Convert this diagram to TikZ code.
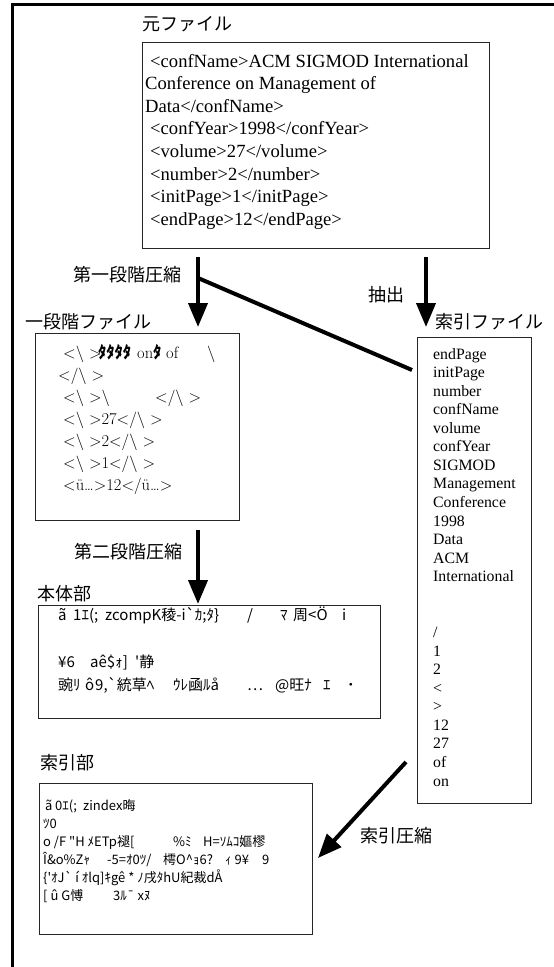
\documentclass[tikz,border=0pt]{standalone}
\usepackage{fontspec}
\newfontfamily\jpfont{Noto Sans CJK JP}
\newfontfamily\serifA{Liberation Serif}
\usetikzlibrary{arrows.meta}
\newcommand\sg[2]{\makebox[#1][l]{#2}}
\begin{document}
\begin{tikzpicture}[x=1pt,y=-1pt,
  frameline/.style={line width=3pt},
  filebox/.style={draw=black!85, line width=1.1pt, anchor=north west, inner sep=0pt},
  lbl/.style={font=\jpfont\fontsize{18}{20}\selectfont, inner sep=0pt, anchor=west},
  srcline/.style={font=\serifA\fontsize{18.6}{22}\selectfont, inner sep=0pt, anchor=base west},
  idxline/.style={font=\serifA\fontsize{15.8}{18}\selectfont, inner sep=0pt, anchor=base west},
  lmline/.style={font=\fontsize{16.5}{18}\selectfont, inner sep=0pt, anchor=base west},
  bodyline/.style={font=\jpfont\fontsize{15}{17}\selectfont, inner sep=0pt, anchor=base west},
  ipline/.style={font=\jpfont\fontsize{13}{15}\selectfont, inner sep=0pt, anchor=base west},
  bigarrow/.style={line width=4pt, -{Triangle[length=24pt,width=19pt]}},
  thickline/.style={line width=4pt},
]
\useasboundingbox (0,0) rectangle (554,967);
% outer frame (partly outside the picture)
\draw[frameline] (12,975) -- (12,4) -- (560,4);

% boxes
\node[filebox, minimum width=347pt, minimum height=206pt] (orig) at (142,42) {};
\node[filebox, minimum width=204pt, minimum height=187pt] (stage1) at (35,333) {};
\node[filebox, minimum width=342pt, minimum height=113pt] (body) at (38,605) {};
\node[filebox, minimum width=114pt, minimum height=466pt] (idx) at (417,337) {};
\node[filebox, minimum width=273pt, minimum height=151pt] (ipart) at (39,783) {};

% labels
\node[lbl] (lorig) at (142,24) {元ファイル};
\node[lbl] (lc1) at (73,275) {第一段階圧縮};
\node[lbl] (lstage1) at (25,322) {一段階ファイル};
\node[lbl] (lext) at (368,295) {抽出};
\node[lbl] (lidx) at (435,322) {索引ファイル};
\node[lbl] (lc2) at (74,552) {第二段階圧縮};
\node[lbl] (lbody) at (37,594) {本体部};
\node[lbl] (lipart) at (40,763) {索引部};
\node[lbl, anchor=east] (lc3) at (433,836) {索引圧縮};

% connectors
\coordinate (ax1) at (198,0);
\coordinate (ax2) at (426,0);
\draw[bigarrow, shorten <=8pt, shorten >=6pt] (orig.south -| ax1) -- (stage1.north -| ax1);
\draw[bigarrow, shorten <=8pt, shorten >=10pt] (orig.south -| ax2) -- (idx.north -| ax2);
\draw[bigarrow, shorten <=9pt, shorten >=1pt] (stage1.south -| ax1) -- (body.north -| ax1);
\coordinate (split) at (198,278);
\coordinate (splitend) at (412,370);
\draw[thickline] (split) -- (splitend);
\coordinate (c3s) at (406,762);
\coordinate (c3e) at (318,858);
\draw[bigarrow] (c3s) -- (c3e);

% original file text
\node[srcline] (o1) at (150,67) {<confName>ACM SIGMOD International};
\node[srcline] (o2) at (145,89.6) {Conference on Management of};
\node[srcline] (o3) at (145,112.2) {Data</confName>};
\node[srcline] (o4) at (150,134.8) {<confYear>1998</confYear>};
\node[srcline] (o5) at (150,157.4) {<volume>27</volume>};
\node[srcline] (o6) at (150,180) {<number>2</number>};
\node[srcline] (o7) at (150,202.6) {<initPage>1</initPage>};
\node[srcline] (o8) at (150,225.2) {<endPage>12</endPage>};

% index file text
\foreach \t [count=\i from 0] in {endPage,initPage,number,confName,volume,confYear,SIGMOD,Management,Conference,1998,Data,ACM,International}
  \node[idxline] (ix\i) at ({433},{359+18.57*\i}) {\t};
\foreach \t [count=\i from 15] in {/,1,2,<,>,12,27,of,on}
  \node[idxline] (ix\i) at ({433},{359+18.57*\i}) {\t};

% first stage file text
\node[lmline] (s1) at (63,358) {\sg{35pt}{<\textbackslash\ >}\sg{39pt}{\jpfont\bfseries ﾀﾀﾀﾀ}\sg{16pt}{on}\sg{13pt}{\jpfont\bfseries ﾀ}\sg{41pt}{of}\textbackslash};
\node[lmline] (s2) at (58,380) {</\textbackslash\ >};
\node[lmline] (s3) at (63,402) {\sg{92pt}{<\textbackslash\ >\textbackslash}</\textbackslash\ >};
\node[lmline] (s4) at (63,424) {<\textbackslash\ >27</\textbackslash\ >};
\node[lmline] (s5) at (63,446) {<\textbackslash\ >2</\textbackslash\ >};
\node[lmline] (s6) at (63,468) {<\textbackslash\ >1</\textbackslash\ >};
\node[lmline] (s7) at (63,490) {<ü…>12</ü…>};

% body text
\node[bodyline] (b1) at (58,620) {\sg{15pt}{ã}\sg{32pt}{1ｴ(;}\sg{142pt}{zcompK稜-i\textasciigrave ｶ;ﾀ\}}\sg{33pt}{/}\sg{13pt}{ﾏ}\sg{49pt}{周<Ö}i};
\node[bodyline] (b2) at (58,667) {\sg{32pt}{¥6}\sg{45pt}{aê\$ｫ]}\textquotesingle 静};
\node[bodyline] (b3) at (58,690) {\sg{27pt}{豌ﾘ}\sg{10pt}{ô}\sg{78pt}{9,\textasciigrave 統草ﾍ}\sg{74pt}{ｳﾚ凾ﾙå}\sg{28pt}{…}\sg{48pt}{@旺ﾅ}\sg{24pt}{ｴ}˙};

% index part text
\node[ipline] (p1) at (45,810) {\sg{10pt}{ã}\sg{28pt}{0ｴ(;}zindex晦};
\node[ipline] (p2) at (43,828) {ﾂ0};
\node[ipline] (p3) at (43,846) {\sg{130pt}{o /F "H ﾒETp褪[}\sg{30pt}{\%ﾐ}H=ｿﾑｺ嫗樛};
\node[ipline] (p4) at (43,864) {\sg{64pt}{Î\&o\%Zｬ}\sg{56pt}{-5=ｵ0ﾂ/}\sg{62pt}{樗O\textasciicircum ｮ6?}\sg{37pt}{ｨ 9¥}9};
\node[ipline] (p5) at (43,882) {\{\textquotesingle ｵJ\textasciigrave\ í ｵlq]ｷgê * ﾉ戌ﾀhU紀裁dÅ};
\node[ipline] (p6) at (43,900) {\sg{70pt}{[ û G愽}3ﾙ¯ xﾇ};
\end{tikzpicture}
\end{document}
